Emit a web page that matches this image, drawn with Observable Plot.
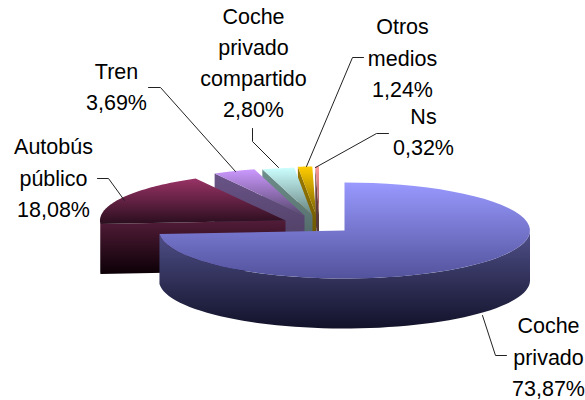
<!DOCTYPE html>
<html>
<head>
<meta charset="utf-8">
<script src="https://cdn.jsdelivr.net/npm/d3@7"></script>
<script src="https://cdn.jsdelivr.net/npm/@observablehq/plot@0.6"></script>
<style>html,body{margin:0;padding:0;background:#fff}svg{display:block}</style>
</head>
<body>
<div id="chart"></div>
<script>
const categories = ["Coche privado", "Autobús público", "Tren", "Coche privado compartido", "Otros medios", "Ns"];
const values = [73.87, 18.08, 3.69, 2.80, 1.24, 0.32];
const labelLines = [["Coche", "privado"], ["Autobús", "público"], ["Tren"], ["Coche", "privado", "compartido"], ["Otros", "medios"], ["Ns"]];
const topColors = [["#9999ff", "#52529c"], ["#993366", "#2a0e1e"], ["#cc99ff", "#57466e"], ["#ccffff", "#66827f"], ["#ffcc00", "#7a6200"], ["#ff9999", "#8a5050"]];
const sideColors = [["#50508a", "#12122a"], ["#521c38", "#0c0006"], ["#6a5488", "#463858"], ["#6f908c", "#465a5a"], ["#9c7c00", "#574500"], ["#7a4a4a", "#403030"]];

// Layout of the drawing, in the picture's own units
const RX = 185.5, RY = 48, DEPTH = 50;
const apex = [[344, 230], [285, 220], [304, 215], [312, 215], [315.5, 214], [318.5, 214]];
const labelAt = [[548, 354], [53, 175], [116, 84], [253, 60], [402, 55], [423, 129]];
const leaders = [
  [[482, 315], [495, 355], [506, 355]],
  [[97, 178], [108, 178], [124, 200]],
  [[148, 87], [160, 87], [235, 171]],
  [[252, 128], [252, 141], [278, 167]],
  [[363, 57], [352, 57], [306, 166]],
  [[388, 133], [376, 133], [315, 167]]
];

const total = d3.sum(values);
const ends = d3.cumsum(values).map(v => v / total * 2 * Math.PI);
const starts = [0, ...ends.slice(0, -1)];
const pt = (i, t, dy = 0) => ({x: apex[i][0] + RX * Math.sin(t), y: apex[i][1] - RY * Math.cos(t) + dy});
const arc = (i, a, b, dy = 0) => d3.range(0, 61).map(k => pt(i, a + (b - a) * k / 60, dy));

function topFace(i) {
  return [{x: apex[i][0], y: apex[i][1]}, ...arc(i, starts[i], ends[i])];
}
// the radial cut face seen under the slice's first edge
function cutFace(i) {
  const c = {x: apex[i][0], y: apex[i][1]}, p = pt(i, starts[i]);
  return [c, p, {x: p.x, y: p.y + DEPTH}, {x: c.x, y: c.y + DEPTH}];
}
// the curved rim, front half of the ellipse only
function rim(i) {
  const a = Math.max(starts[i], Math.PI / 2), b = Math.min(ends[i], 3 * Math.PI / 2);
  return b > a ? [...arc(i, a, b), ...arc(i, b, a, DEPTH)] : [];
}

function gradient(defs, id, [c0, c1]) {
  const g = defs.append("linearGradient").attr("id", id).attr("x1", 0).attr("y1", 0).attr("x2", 0).attr("y2", 1);
  g.append("stop").attr("offset", 0).attr("stop-color", c0);
  g.append("stop").attr("offset", 1).attr("stop-color", c1);
}
const defsMark = () => {
  const defs = d3.create("svg:defs");
  categories.forEach((_, i) => {
    gradient(defs, `top${i}`, topColors[i]);
    gradient(defs, `side${i}`, sideColors[i]);
  });
  return defs.node();
};

const poly = (data, fill) => Plot.line(data, {x: "x", y: "y", fill, stroke: "none", curve: "linear"});

const sliceMarks = [];
// back to front: smallest wedge first, big slice last
[5, 4, 3, 2, 1, 0].forEach(i => {
  if (i !== 0) sliceMarks.push(poly(cutFace(i), `url(#side${i})`));
  const r = rim(i);
  if (r.length) sliceMarks.push(poly(r, `url(#side${i})`));
  sliceMarks.push(poly(topFace(i), `url(#top${i})`));
});

const labels = categories.map((c, i) => ({
  x: labelAt[i][0],
  y: labelAt[i][1],
  text: [...labelLines[i], values[i].toFixed(2).replace(".", ",") + "%"].join("\n")
}));
const leaderRows = leaders.flatMap((l, i) => l.map(([x, y]) => ({x, y, k: categories[i]})));

const chart = Plot.plot({
  width: 585,
  height: 400,
  margin: 0,
  x: {domain: [0, 585], range: [0, 585], axis: null},
  y: {domain: [0, 400], range: [0, 400], axis: null},
  style: {background: "#fff"},
  marks: [
    defsMark,
    ...sliceMarks,
    Plot.line(leaderRows, {x: "x", y: "y", z: "k", stroke: "#222", strokeWidth: 1, curve: "linear"}),
    Plot.text(labels, {
      x: "x", y: "y", text: "text",
      fontFamily: "Liberation Sans", fontSize: 21.5, lineHeight: 1.455,
      fill: "#000", textAnchor: "middle", lineAnchor: "middle"
    })
  ]
});
document.getElementById("chart").append(chart);
</script>
</body>
</html>
